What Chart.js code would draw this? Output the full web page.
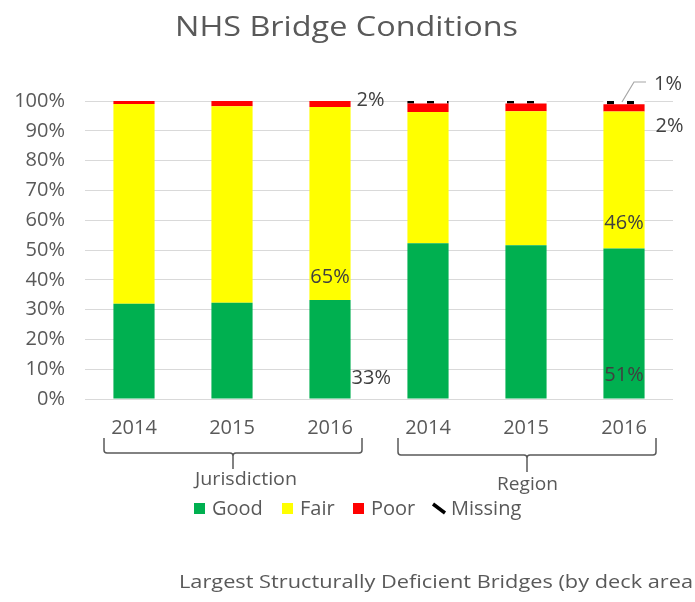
<!DOCTYPE html>
<html>
<head>
<meta charset="utf-8">
<script src="https://cdn.jsdelivr.net/npm/chart.js@4/dist/chart.umd.min.js"></script>
<style>
  html, body { margin: 0; padding: 0; background: #fff; }
  #wrap { width: 695px; height: 602px; }
</style>
</head>
<body>
<div id="wrap"><canvas id="chart" width="695" height="602"></canvas></div>
<script>
// data
const years = ['2014', '2015', '2016', '2014', '2015', '2016'];
const groups = ['Jurisdiction', 'Region'];
const good = [32, 32.3, 33.2, 52.3, 51.6, 50.5];
const fair = [67, 65.9, 64.8, 44, 45, 46];
const poor = [1, 1.8, 2, 2.9, 2.6, 2.4];
const missing = [0, 0, 0, 0.8, 0.8, 1.1];
const yTicks = [0, 10, 20, 30, 40, 50, 60, 70, 80, 90, 100];

const FONT = '"Open Sans", Roboto, sans-serif';
const GREY = '#595959';

// pattern voor "Missing"
function makePattern() {
  const c = document.createElement('canvas');
  c.width = 20; c.height = 3;
  const g = c.getContext('2d');
  g.fillStyle = '#fff';
  g.fillRect(0, 0, 20, 3);
  g.fillStyle = '#000';
  g.fillRect(7, 0, 7, 3);
  return g.createPattern(c, 'repeat');
}
const missingFill = makePattern();

// tekst horizontaal passend maken op een breedte
function fitText(ctx, txt, x, y, w) {
  const m = ctx.measureText(txt).width;
  ctx.save();
  ctx.translate(x, y);
  ctx.scale(w / m, 1);
  ctx.fillText(txt, 0, 0);
  ctx.restore();
}

// titel, haken, legenda, voettekst
const decor = {
  id: 'decor',
  afterDraw(chart) {
    const ctx = chart.ctx;
    const x = chart.scales.x;
    ctx.save();
    ctx.fillStyle = GREY;
    ctx.textBaseline = 'middle';
    ctx.textAlign = 'left';

    // titel
    ctx.font = '28px ' + FONT;
    fitText(ctx, 'NHS Bridge Conditions', 175, 28, 343);

    // haken onder de jaren: [van, tot, tip-onder, horizontaal, label-y, label-x-offset, label-breedte]
    ctx.strokeStyle = GREY;
    ctx.lineWidth = 1.5;
    const spans = [[0, 2, 469, 453, 480, -38, 102], [3, 5, 472, 455, 485, -30, 61]];
    spans.forEach((s, gi) => {
      const l = x.getPixelForValue(s[0]) - 30;
      const r = x.getPixelForValue(s[1]) + 32;
      const m = (l + r) / 2;
      const top = 438, mid = s[3];
      ctx.beginPath();
      ctx.moveTo(l, top);
      ctx.lineTo(l, mid - 3);
      ctx.quadraticCurveTo(l, mid, l + 3, mid);
      ctx.lineTo(m - 3, mid);
      ctx.quadraticCurveTo(m, mid, m, mid + 3);
      ctx.lineTo(m, s[2]);
      ctx.moveTo(m, mid + 3);
      ctx.quadraticCurveTo(m, mid, m + 3, mid);
      ctx.lineTo(r - 3, mid);
      ctx.quadraticCurveTo(r, mid, r, mid - 3);
      ctx.lineTo(r, top);
      ctx.stroke();
      ctx.font = '18px ' + FONT;
      fitText(ctx, groups[gi], m + s[5], s[4], s[6]);
    });

    // legenda
    ctx.font = '20px ' + FONT;
    const items = [
      { t: 'Good', c: '#00B050', x: 194 },
      { t: 'Fair', c: '#FFFF00', x: 282 },
      { t: 'Poor', c: '#FF0000', x: 353 },
      { t: 'Missing', c: null, x: 433 }
    ];
    items.forEach(it => {
      if (it.c) {
        ctx.fillStyle = it.c;
        ctx.fillRect(it.x, 503, 11, 11);
      } else {
        ctx.strokeStyle = '#000';
        ctx.lineWidth = 3.5;
        ctx.beginPath();
        ctx.moveTo(it.x, 504);
        ctx.lineTo(it.x + 12, 513);
        ctx.stroke();
      }
      ctx.fillStyle = GREY;
      ctx.fillText(it.t, it.x + 18, 509);
    });

    // voettekst
    ctx.font = '19px ' + FONT;
    fitText(ctx, 'Largest Structurally Deficient Bridges (by deck area', 179, 583, 514);
    ctx.restore();
  }
};

// labels alleen bij 2016
const barLabels = {
  id: 'barLabels',
  afterDatasetsDraw(chart) {
    const ctx = chart.ctx;
    ctx.save();
    ctx.font = '20px ' + FONT;
    ctx.fillStyle = '#404040';
    ctx.textBaseline = 'middle';
    const pct = (ds, i) => Math.round(chart.data.datasets[ds].data[i]) + '%';
    const bar = (ds, i) => chart.getDatasetMeta(ds).data[i];

    // Jurisdiction 2016
    let b = bar(0, 2);
    ctx.textAlign = 'left';
    ctx.fillText(pct(0, 2), b.x + b.width / 2 + 1, b.base - 20);
    b = bar(1, 2);
    ctx.textAlign = 'center';
    ctx.fillText(pct(1, 2), b.x, b.base - 23);
    b = bar(2, 2);
    ctx.textAlign = 'left';
    ctx.fillText(pct(2, 2), b.x + b.width / 2 + 6, b.y - 1);

    // Region 2016
    b = bar(0, 5);
    ctx.textAlign = 'center';
    ctx.fillText(pct(0, 5), b.x, b.base - 23);
    b = bar(1, 5);
    ctx.fillText(pct(1, 5), b.x, b.base - 25);
    b = bar(2, 5);
    ctx.textAlign = 'left';
    ctx.fillText(pct(2, 5), b.x + b.width / 2 + 11, b.y + 22);
    b = bar(3, 5);
    ctx.strokeStyle = '#a6a6a6';
    ctx.lineWidth = 1.2;
    ctx.beginPath();
    ctx.moveTo(b.x - 2, b.y + 1);
    ctx.lineTo(b.x + 10, b.y - 19);
    ctx.lineTo(b.x + 22, b.y - 19);
    ctx.stroke();
    ctx.fillText(pct(3, 5), b.x + 30, b.y - 17);
    ctx.restore();
  }
};

const ds = (label, data, color) => ({
  label: label,
  data: data,
  backgroundColor: color,
  borderWidth: 0,
  categoryPercentage: 1,
  barPercentage: 0.42
});

new Chart(document.getElementById('chart'), {
  type: 'bar',
  data: {
    labels: years,
    datasets: [
      ds('Good', good, '#00B050'),
      ds('Fair', fair, '#FFFF00'),
      ds('Poor', poor, '#FF0000'),
      ds('Missing', missing, missingFill)
    ]
  },
  options: {
    responsive: false,
    animation: false,
    layout: { padding: { top: 101, right: 22, bottom: 0, left: 0 } },
    plugins: {
      legend: { display: false },
      title: { display: false },
      tooltip: { enabled: false }
    },
    scales: {
      x: {
        stacked: true,
        grid: { display: false },
        border: { display: false },
        ticks: { color: GREY, font: { family: FONT, size: 20 }, padding: 9, maxRotation: 0 },
        afterFit: s => { s.height = 203; }
      },
      y: {
        stacked: true,
        min: 0,
        max: 100,
        afterBuildTicks: s => { s.ticks = yTicks.map(v => ({ value: v })); },
        grid: { color: '#d9d9d9', lineWidth: 1, drawTicks: false },
        border: { display: false },
        ticks: {
          color: GREY,
          font: { family: FONT, size: 20 },
          padding: 20,
          callback: v => v + '%'
        },
        afterFit: s => { s.width = 85; }
      }
    }
  },
  plugins: [decor, barLabels]
});
</script>
</body>
</html>
